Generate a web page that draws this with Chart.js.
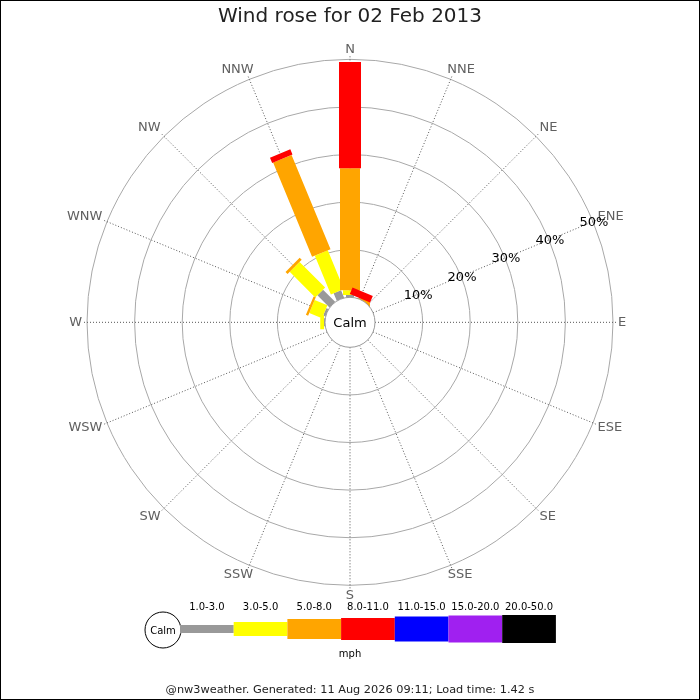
<!DOCTYPE html>
<html>
<head>
<meta charset="utf-8">
<script src="https://cdn.jsdelivr.net/npm/chart.js@4.4.1/dist/chart.umd.min.js"></script>
<style>
  html, body { margin: 0; padding: 0; background: #fff; }
  #rose { display: block; outline: 1px solid #000; outline-offset: -1px; }
</style>
</head>
<body>
<canvas id="rose" width="700" height="700"></canvas>
<script>
// compass points, clockwise from N
const directions = ['N', 'NNE', 'NE', 'ENE', 'E', 'ESE', 'SE', 'SSE',
                    'S', 'SSW', 'SW', 'WSW', 'W', 'WNW', 'NW', 'NNW'];
const speedBands = ['1.0-3.0', '3.0-5.0', '5.0-8.0', '8.0-11.0', '11.0-15.0', '15.0-20.0', '20.0-50.0'];
const speedUnit = 'mph';

// % of the day, per direction, one array per speed band
const band1to3   = [0.5, 0, 0, 0, 0, 0, 0, 0, 0, 0, 0, 0, 0.2, 0.5, 3.6, 1.7];
const band3to5   = [1.0, 0, 0, 0, 0, 0, 0, 0, 0, 0, 0, 0, 0.8, 2.9, 7.6, 8.8];
const band5to8   = [25.6, 0.2, 0, 0, 0, 0, 0, 0, 0, 0, 0, 0, 0, 0.5, 0.6, 21.4];
const band8to11  = [22.3, 1.5, 0, 0, 0, 0, 0, 0, 0, 0, 0, 0, 0, 0, 0, 1.2];
const band11to15 = [0, 0, 0, 0, 0, 0, 0, 0, 0, 0, 0, 0, 0, 0, 0, 0];
const band15to20 = [0, 0, 0, 0, 0, 0, 0, 0, 0, 0, 0, 0, 0, 0, 0, 0];
const band20to50 = [0, 0, 0, 0, 0, 0, 0, 0, 0, 0, 0, 0, 0, 0, 0, 0];
const bandValues = [band1to3, band3to5, band5to8, band8to11, band11to15, band15to20, band20to50];

const ringTicks = [10, 20, 30, 40, 50];

// styles
const bandColors = ['#999999', '#ffff00', '#ffa500', '#ff0000', '#0000ff', '#a020f0', '#000000'];
const bandWidths = [8, 14, 20, 22, 25, 27, 28];
const FONT = "'DejaVu Sans', sans-serif";

// layout: px per 1% and the calm hole (in % units)
const PX_PER_PCT = 4.76;
const HOLE = 25 / PX_PER_PCT;
const CX = 350, CY = 322, AREA_TOP = 27, AREA_BOTTOM = 684;

function polar(dir, r) {
  const a = dir * Math.PI / 8;
  return { x: r * Math.sin(a), y: r * Math.cos(a) };
}

// each speed band is one dataset of radial segments, stacked outward
const datasets = bandValues.map((vals, b) => {
  const pts = [];
  vals.forEach((v, d) => {
    if (!v) return;
    let start = HOLE;
    for (let i = 0; i < b; i++) start += bandValues[i][d];
    pts.push(polar(d, start), polar(d, start + v), { x: null, y: null });
  });
  return {
    label: speedBands[b],
    data: pts,
    showLine: true,
    spanGaps: false,
    borderColor: bandColors[b],
    borderWidth: bandWidths[b],
    borderCapStyle: 'butt',
    pointRadius: 0,
    pointHoverRadius: 0,
    order: -b
  };
});

const roseDecor = {
  id: 'roseDecor',
  beforeDatasetsDraw(chart) {
    const { ctx, scales: { x, y } } = chart;
    const cx = x.getPixelForValue(0), cy = y.getPixelForValue(0);
    const rad = v => x.getPixelForValue(v) - cx;
    const outer = rad(HOLE + ringTicks[ringTicks.length - 1]);
    ctx.save();
    ctx.strokeStyle = '#a8a8a8';
    ctx.lineWidth = 1;
    ringTicks.forEach(t => {
      ctx.beginPath();
      ctx.arc(cx, cy, rad(HOLE + t), 0, 2 * Math.PI);
      ctx.stroke();
    });
    ctx.strokeStyle = '#555';
    ctx.setLineDash([1, 2]);
    directions.forEach((d, i) => {
      const a = i * Math.PI / 8;
      ctx.beginPath();
      ctx.moveTo(cx + rad(HOLE) * Math.sin(a), cy - rad(HOLE) * Math.cos(a));
      ctx.lineTo(cx + (outer + 3) * Math.sin(a), cy - (outer + 3) * Math.cos(a));
      ctx.stroke();
    });
    ctx.restore();
  },
  afterDatasetsDraw(chart) {
    const { ctx, scales: { x, y } } = chart;
    const cx = x.getPixelForValue(0), cy = y.getPixelForValue(0);
    const rad = v => x.getPixelForValue(v) - cx;
    const outer = rad(HOLE + ringTicks[ringTicks.length - 1]);
    ctx.save();
    // calm circle
    ctx.beginPath();
    ctx.arc(cx, cy, rad(HOLE), 0, 2 * Math.PI);
    ctx.fillStyle = '#fff';
    ctx.fill();
    ctx.strokeStyle = '#999';
    ctx.lineWidth = 1;
    ctx.stroke();
    ctx.textAlign = 'center';
    ctx.textBaseline = 'middle';
    ctx.fillStyle = '#000';
    ctx.font = '13px ' + FONT;
    ctx.fillText('Calm', cx, cy + 1);

    // compass labels, pushed outward by their own size
    ctx.fillStyle = '#606060';
    ctx.font = '13px ' + FONT;
    directions.forEach((d, i) => {
      const a = i * Math.PI / 8;
      const s = Math.sin(a), c = Math.cos(a);
      const w = ctx.measureText(d).width;
      const r = outer + 5;
      const lx = cx + r * s + Math.sign(s) * (w / 2) * Math.min(1, 1.6 * Math.abs(s));
      const ly = cy - r * c - Math.sign(c) * 5 * Math.min(1, 1.5 * Math.abs(c));
      ctx.fillText(d, lx, ly);
    });

    // ring labels along ENE
    const ene = 3 * Math.PI / 8;
    ctx.fillStyle = '#000';
    ringTicks.forEach(t => {
      const r = rad(HOLE + t);
      ctx.fillText(t + '%', cx + r * Math.sin(ene) + 1, cy - r * Math.cos(ene) + 1);
    });

    // speed legend
    const lx = 180, lw = 53.7, ly = 629;
    ctx.beginPath();
    ctx.arc(163, 630, 18, 0, 2 * Math.PI);
    ctx.fillStyle = '#fff';
    ctx.fill();
    ctx.strokeStyle = '#000';
    ctx.stroke();
    ctx.fillStyle = '#000';
    ctx.font = '10px ' + FONT;
    ctx.fillText('Calm', 163, 631);
    speedBands.forEach((s, b) => {
      ctx.fillStyle = bandColors[b];
      ctx.fillRect(lx + b * lw, ly - bandWidths[b] / 2, lw, bandWidths[b]);
      ctx.fillStyle = '#000';
      ctx.fillText(s, lx + (b + 0.5) * lw, 607);
    });
    ctx.fillText(speedUnit, 350, 654);
    ctx.restore();
  }
};

new Chart(document.getElementById('rose'), {
  type: 'scatter',
  data: { datasets },
  options: {
    responsive: false,
    animation: false,
    events: [],
    layout: { padding: 0 },
    scales: {
      x: { type: 'linear', display: false, min: -CX / PX_PER_PCT, max: (700 - CX) / PX_PER_PCT },
      y: { type: 'linear', display: false, min: -(AREA_BOTTOM - CY) / PX_PER_PCT, max: (CY - AREA_TOP) / PX_PER_PCT }
    },
    plugins: {
      legend: { display: false },
      tooltip: { enabled: false },
      title: {
        display: true,
        text: 'Wind rose for 02 Feb 2013',
        color: '#222',
        font: { family: FONT, size: 20, weight: 'normal', lineHeight: 1 },
        padding: { top: 7, bottom: 0 }
      },
      subtitle: {
        display: true,
        position: 'bottom',
        text: '@nw3weather. Generated: 11 Aug 2026 09:11; Load time: 1.42 s',
        color: '#222',
        font: { family: FONT, size: 11.3, weight: 'normal', lineHeight: 1 },
        padding: { top: 0, bottom: 4 }
      }
    }
  },
  plugins: [roseDecor]
});
</script>
</body>
</html>
